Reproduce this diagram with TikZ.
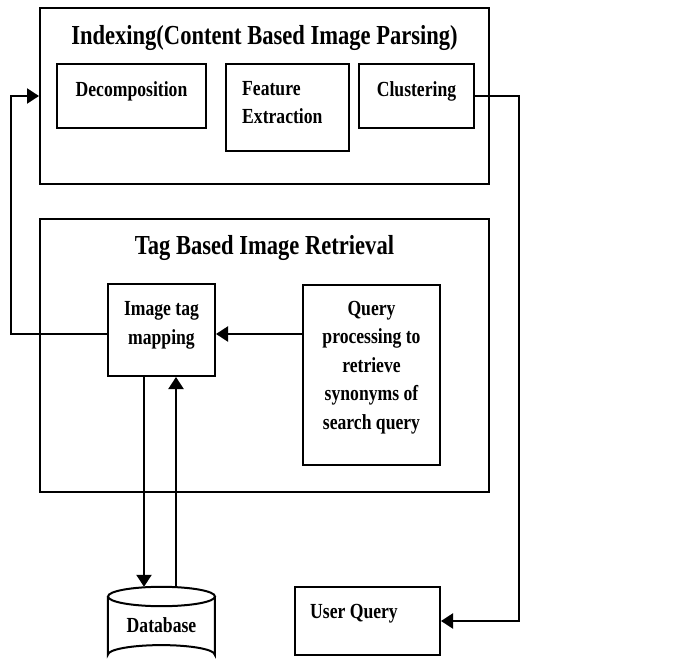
\documentclass[tikz,border=0pt]{standalone}
\usepackage{fontspec}
\setmainfont{Liberation Serif}[FakeStretch=0.82]
\usetikzlibrary{arrows.meta}

\begin{document}
\begin{tikzpicture}[x=1pt,y=-1pt,
  box/.style={draw, line width=2pt, inner sep=0pt},
  lbl/.style={font=\fontsize{21.5}{28.5}\selectfont\bfseries, align=center, inner sep=0pt, anchor=base},
  ttl/.style={font=\fontsize{27.5}{32}\selectfont\bfseries, inner sep=0pt, anchor=base},
  arr/.style={line width=2.2pt, -{Triangle[length=12pt,width=15pt]}},
  ln/.style={line width=2pt}]
\useasboundingbox (0,0) rectangle (675,661);

% Indexing block
\node[box, minimum width=449pt, minimum height=176pt] (idx) at (264.5,96) {};
\node[ttl] (idxt) at (264.5,45) {Indexing(Content Based Image Parsing)};
\node[box, minimum width=149pt, minimum height=64pt] (dec) at (131.5,96) {};
\node[lbl] (dect) at (131.5,96) {Decomposition};
\node[box, minimum width=123pt, minimum height=87pt] (fea) at (287.5,107.5) {};
\node[lbl, align=left, anchor=base west] (feat) at (242,124) {Feature\\Extraction};
\node[box, minimum width=115pt, minimum height=64pt] (clu) at (416.5,96) {};
\node[lbl] (clut) at (416.5,96) {Clustering};

% Tag based retrieval block
\node[box, minimum width=449pt, minimum height=273pt] (tbr) at (264.5,355.5) {};
\node[ttl] (tbrt) at (264.5,254) {Tag Based Image Retrieval};
\node[box, minimum width=107pt, minimum height=92pt] (img) at (161.5,330) {};
\node[lbl] (imgt) at (161.5,344) {Image tag\\mapping};
\node[box, minimum width=137pt, minimum height=180pt] (qry) at (371.5,375) {};
\node[lbl] (qryt) at (371.5,429) {Query\\processing to\\retrieve\\synonyms of\\search query};

% User query
\node[box, minimum width=145pt, minimum height=68pt] (uq) at (367.5,621) {};
\node[lbl] (uqt) at (354,618) {User Query};

% Database cylinder
\node[inner sep=0pt, minimum width=107pt, minimum height=68pt] (db) at (161.5,621) {};
\node[lbl] (dbt) at (161.5,632) {Database};
\draw[ln] (db.north west) ++(0,9.7) -- ++(0,58.3) arc[start angle=180, end angle=360, x radius=53.5, y radius=9.7] -- ++(0,-58.3);
\draw[ln] (db.north) ++(0,9.7) ellipse[x radius=53.5, y radius=9.7];

% Connectors
\path ([yshift=-4pt]img.west) coordinate (imgW);
\path ([yshift=-4pt]img.east) coordinate (imgE);
\draw[arr] (imgW) -| ([xshift=-28pt]idx.west) -- (idx.west);
\draw[arr] (imgE -| qry.west) -- (imgE);
\draw[arr] (clu.east) -- ++(44,0) |- (uq.east);
\path ([xshift=-17.5pt]img.south) coordinate (dn);
\path ([xshift=14.5pt]img.south) coordinate (up);
\draw[arr] (dn) -- (dn |- db.north);
\draw[arr] (up |- db.north) -- (up);
\end{tikzpicture}
\end{document}
